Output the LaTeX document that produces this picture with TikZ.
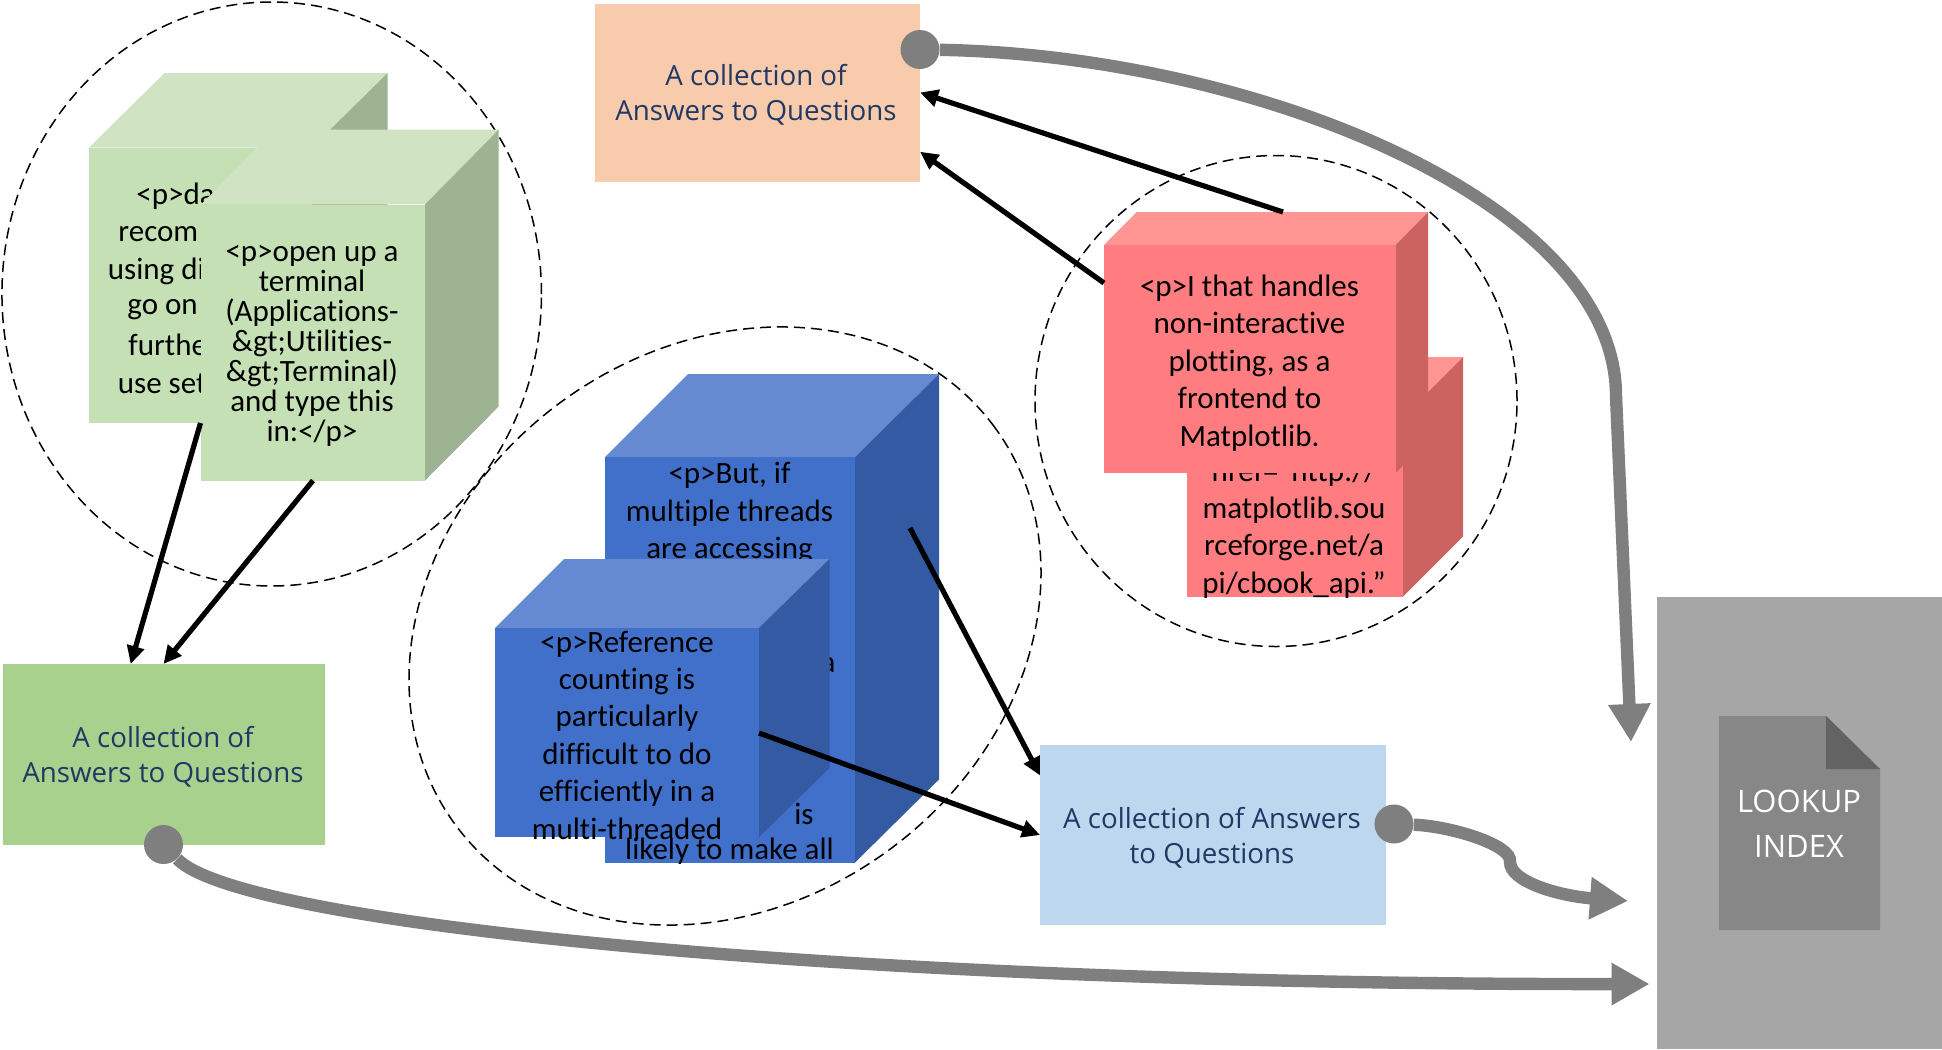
\documentclass[tikz,border=0pt]{standalone}
\usepackage{fontspec}
\setmainfont{Carlito}[Ligatures=NoCommon]
\newfontfamily\labelfont{Open Sans}
\usetikzlibrary{shapes,arrows.meta}

\definecolor{greenfront}{HTML}{C5E0B4}
\definecolor{greentop}{HTML}{D0E4C3}
\definecolor{greenside}{HTML}{9DB391}
\definecolor{bluefront}{HTML}{4070CA}
\definecolor{bluetop}{HTML}{668AD2}
\definecolor{blueside}{HTML}{335AA2}
\definecolor{redfront}{HTML}{FF7C80}
\definecolor{redtop}{HTML}{FF9593}
\definecolor{redside}{HTML}{CC6361}
\definecolor{answerorange}{HTML}{F8CBAD}
\definecolor{answergreen}{HTML}{A9D18E}
\definecolor{answerblue}{HTML}{BDD7EE}
\definecolor{indexgray}{HTML}{A6A6A6}
\definecolor{pagegray}{HTML}{878787}
\definecolor{foldgray}{HTML}{636363}
\definecolor{navytext}{HTML}{1F3864}
\definecolor{linegray}{HTML}{7F7F7F}

\tikzset{
    blob/.style={circle, fill=linegray, inner sep=0pt, minimum size=19.5pt},
    facebox/.style={rectangle, inner sep=0pt, outer sep=0pt},
    answertext/.style={inner sep=0pt, text=navytext, align=center,
        font=\labelfont\fontsize{13.85}{17.4}\selectfont},
    bodytext/.style={inner sep=0pt, align=center, text=black,
        font=\fontsize{15.5}{18.7}\selectfont},
    scopeline/.style={draw, ellipse, dash pattern=on 5.5pt off 3pt,
        line width=0.75pt, inner sep=0pt},
    linkarrow/.style={line width=2.6pt, -{Triangle[length=9pt,width=8.5pt]}},
    feedarrow/.style={line width=6.2pt, draw=linegray,
        -{Triangle[length=19pt,width=20pt,fill=linegray]}}
}

\begin{document}
\begin{tikzpicture}[x=0.5pt,y=-0.5pt]
\useasboundingbox (0,0) rectangle (1942,1049);

% Dashed scopes
\node [scopeline,
    minimum width=269.75pt,
    minimum height=292pt] (scopeA) at (271.7,294){};
\node [scopeline,
    rotate=36.4,
    minimum width=335pt,
    minimum height=277.6pt] (scopeB) at (725,626){};
\node [scopeline,
    minimum width=241pt,
    minimum height=245.5pt] (scopeC) at (1276,401){};

% Back green cube
\fill[greentop] (89,147.5) -- (164.6,73) -- (387.7,73) -- (312,147.5) -- cycle;
\fill[greenside] (312,147.5) -- (387.7,73) -- (387.7,349) -- (312,423) -- cycle;
\node [facebox,
    fill=greenfront,
    minimum width=111.5pt,
    minimum height=137.75pt] (dataFace) at (200.5,285.25){};
\foreach \i/\xpos/\ypos/\txt in {1/136/196/{<p>da},2/118/234/{recom},3/107.5/271/{using di},
    4/127/310/{go on},5/128/345/{furthe},6/117.5/384/{use set}}
    \node [bodytext, anchor=west] (dataLine\i) at (\xpos,\ypos) {\txt};

% Front green cube
\fill[greentop] (201,204.4) -- (275,129.7) -- (498.7,129.7) -- (425,204.4) -- cycle;
\fill[greenside] (425,204.4) -- (498.7,129.7) -- (498.7,406.5) -- (425,480.5) -- cycle;
\node [facebox,
    fill=greenfront,
    minimum width=112pt,
    minimum height=138pt] (openFace) at (313,342.5){};
\node [bodytext,
    font=\fontsize{15.5}{15}\selectfont] (openText) at (312,346) {<p>open up a\\terminal\\(Applications-\\\&gt;Utilities-\\\&gt;Terminal)\\and type this\\in:</p>};

% Big blue cube
\fill[bluetop] (605,457) -- (688,374) -- (939,374) -- (855,457) -- cycle;
\fill[blueside] (855,457) -- (939,374) -- (939,779.5) -- (855,862.5) -- cycle;
\node [facebox,
    fill=bluefront,
    minimum width=125pt,
    minimum height=202.75pt] (butFace) at (730,659.75){};
\node [bodytext] (butText) at (729.5,513) {<p>But, if\\multiple threads\\are accessing};
\node [bodytext] (butFragA) at (828,665) {a};
\node [bodytext] (butFragB) at (804,814) {is};
\node [bodytext] (butLast) at (729.5,851) {likely to make all};

% Small blue cube
\fill[bluetop] (495,628) -- (564,559) -- (829.5,559) -- (759,628) -- cycle;
\fill[blueside] (759,628) -- (829.5,559) -- (829.5,768) -- (759,837) -- cycle;
\node [facebox,
    fill=bluefront,
    minimum width=132pt,
    minimum height=104.5pt] (refFace) at (627,732.5){};
\node [bodytext] (refText) at (627,735) {<p>Reference\\counting is\\particularly\\difficult to do\\efficiently in a\\multi-threaded};

% Back red cube
\fill[redtop] (1187,417) -- (1247,357) -- (1463,357) -- (1403,417) -- cycle;
\fill[redside] (1403,417) -- (1463,357) -- (1463,536.7) -- (1403,596.7) -- cycle;
\node [facebox,
    fill=redfront,
    minimum width=108pt,
    minimum height=89.85pt] (hrefFace) at (1295,506.85){};
\node [bodytext] (hrefText) at (1294,528.5) {href=“http://\\matplotlib.sou\\rceforge.net/a\\pi/cbook\_api.”};

% Top red cube
\fill[redtop] (1104,245) -- (1136.7,212) -- (1428,212) -- (1395.7,245) -- cycle;
\fill[redside] (1395.7,245) -- (1428,212) -- (1428,440) -- (1395.7,473) -- cycle;
\node [facebox,
    fill=redfront,
    minimum width=145.85pt,
    minimum height=114pt] (plotFace) at (1249.85,359){};
\node [bodytext] (plotText) at (1249.5,363) {<p>I that handles\\non-interactive\\plotting, as a\\frontend to\\Matplotlib.};

% Answer boxes
\node [facebox,
    fill=answerorange,
    minimum width=162.75pt,
    minimum height=89pt] (answersTop) at (757.3,92.5){};
\node [answertext] (answersTopText) at (756,95) {A collection of\\Answers to Questions};
\node [facebox,
    fill=answergreen,
    minimum width=161pt,
    minimum height=90.25pt] (answersLeft) at (163.5,754.25){};
\node [answertext] (answersLeftText) at (163,756.75) {A collection of\\Answers to Questions};
\node [facebox,
    fill=answerblue,
    minimum width=173pt,
    minimum height=90pt] (answersRight) at (1213,835){};
\node [answertext] (answersRightText) at (1212,837.5) {A collection of Answers\\to Questions};

% Lookup index
\node [facebox,
    fill=indexgray,
    minimum width=142.5pt,
    minimum height=226pt] (indexBox) at (1799.5,823){};
\fill[pagegray] (1719,716) -- (1826,716) -- (1880,769) -- (1880,930) -- (1719,930) -- cycle;
\fill[foldgray] (1826,716) -- (1880,769) -- (1826,769) -- cycle;
\node [text=white,
    inner sep=0pt,
    align=center,
    font=\labelfont\fontsize{15.5}{22.5}\selectfont] (indexText) at (1799,824) {LOOKUP\\INDEX};

% Connectors
\draw[linkarrow] (dataFace.south) -- (answersLeft.110);
\draw[linkarrow] (openFace.south) -- (answersLeft.north);
\draw[linkarrow] (plotFace.west |- 0,283) -- (answersTop.-20.4);
\coordinate (plotTop) at (1283,212);
\coordinate (butSide) at (910,528);
\coordinate (refEdge) at (759,733);
\draw[linkarrow] (plotTop) -- (answersTop.east);
\draw[linkarrow] (butSide) -- (answersRight.161);
\draw[linkarrow] (refEdge) -- (answersRight.west);

% Dots and feeds into the index
\coordinate (feedTop) at (1631,742);
\coordinate (feedMid) at (1628,901);
\coordinate (feedLow) at (1649.5,984);
\node [blob] (dotTop) at (920,49.5){};
\node [blob] (dotLeft) at (163.5,844.5){};
\node [blob] (dotRight) at (1394,824){};
\draw[feedarrow] (dotTop) .. controls (1250,55) and (1616,200) .. (1616,396) -- (feedTop);
\draw[feedarrow] (dotRight) .. controls (1450,826) and (1513,845) .. (1510,862)
    .. controls (1510,882) and (1560,896) .. (feedMid);
\draw[feedarrow] (dotLeft) .. controls (240,925) and (850,985) .. (feedLow);

\end{tikzpicture}
\end{document}
